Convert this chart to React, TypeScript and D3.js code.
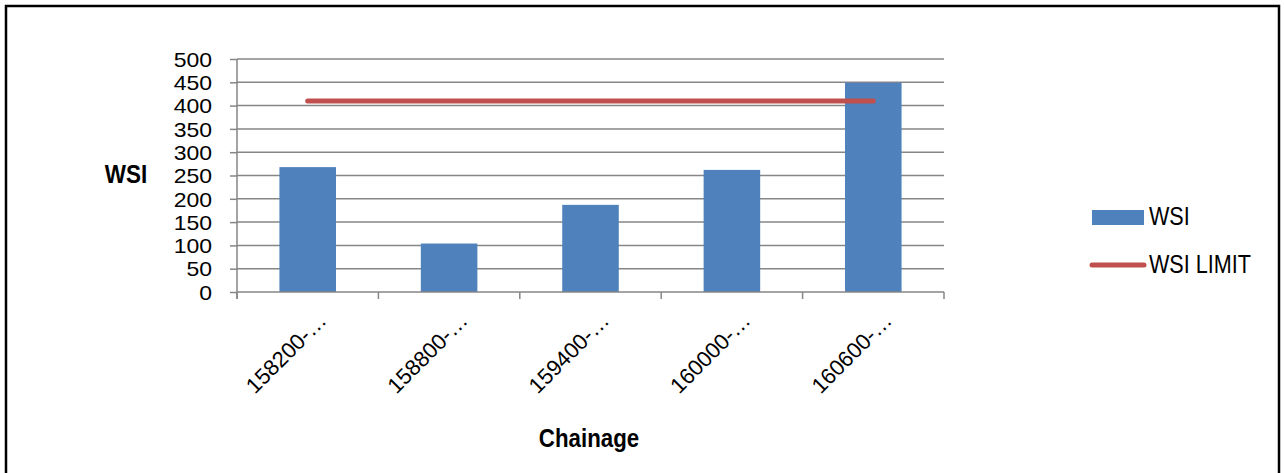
import { useRef, useEffect } from 'react';
import * as d3 from 'd3';

const categories = ['158200-…', '158800-…', '159400-…', '160000-…', '160600-…'];
const wsiValues = [268, 104, 187, 262, 449];
const wsiLimit = [410, 410, 410, 410, 410];
const yTicks = [0, 50, 100, 150, 200, 250, 300, 350, 400, 450, 500];

const width = 1284;
const height = 473;
const marginLeft = 237;
const marginRight = 340;
const marginTop = 59;
const marginBottom = 181;

const font = '"Liberation Sans", Arial, sans-serif';
// text in the original looks stretched vertically
const stretch = 1.18;

export default function App() {
  const gx = useRef<SVGGElement>(null);
  const gy = useRef<SVGGElement>(null);

  const x = d3.scaleBand(categories, [marginLeft, width - marginRight]).paddingInner(0.6).paddingOuter(0.3);
  const xc = d3.scaleBand(categories, [marginLeft, width - marginRight]);
  const y = d3.scaleLinear([0, 500], [height - marginBottom, marginTop]);
  const line = d3.line<number>((d, i) => xc(categories[i])! + xc.bandwidth() / 2, (d) => y(d));

  useEffect(() => {
    const g = d3.select(gy.current!);
    g.selectAll('*').remove();
    g.call(d3.axisLeft(y).tickValues(yTicks).tickSize(7));
    g.select('.domain').attr('stroke', '#868686').attr('stroke-width', 1.5).attr('d', `M0,${y(500)}V${y(0) + 7}`);
    g.selectAll('.tick line').attr('stroke', '#868686').attr('stroke-width', 1.5);
    g.selectAll('.tick text')
      .attr('x', null)
      .attr('transform', 'translate(-25,0) scale(1.15,1)')
      .attr('font-family', font)
      .attr('font-size', 20)
      .attr('fill', '#000')
      .attr('dy', '0.36em');
  }, []);

  useEffect(() => {
    const g = d3.select(gx.current!);
    g.selectAll('*').remove();
    const bounds = categories.map((c) => xc(c)!).concat([width - marginRight]);
    g.append('path')
      .attr('d', `M${marginLeft},0H${width - marginRight}`)
      .attr('stroke', '#868686')
      .attr('stroke-width', 1.5);
    bounds.forEach((b) => {
      g.append('line').attr('x1', b).attr('x2', b).attr('y1', 0).attr('y2', 7)
        .attr('stroke', '#868686').attr('stroke-width', 1.5);
    });
    categories.forEach((c) => {
      const cx = xc(c)! + xc.bandwidth() / 2;
      g.append('text')
        .attr('transform', `translate(${cx + 20},${30}) rotate(-45)`)
        .attr('text-anchor', 'end')
        .attr('font-family', font)
        .attr('font-size', 22)
        .attr('fill', '#000')
        .text(c);
    });
  }, []);

  return (
    <svg width={width} height={height} style={{ position: 'absolute', left: 0, top: 0, background: '#fff' }}>
      <rect x={6} y={6} width={1273} height={480} fill="#fff" stroke="#000" strokeWidth={2.5} />
      <g>
        {yTicks.filter((t) => t > 0).map((t) => (
          <line key={t} x1={marginLeft} x2={width - marginRight} y1={y(t)} y2={y(t)} stroke="#868686" strokeWidth={1.5} />
        ))}
      </g>
      <g>
        {categories.map((c, i) => (
          <rect key={c} x={x(c)} y={y(wsiValues[i])} width={x.bandwidth()} height={y(0) - y(wsiValues[i])} fill="#4F81BD" />
        ))}
      </g>
      <path d={line(wsiLimit)!} fill="none" stroke="#C0504D" strokeWidth={5} strokeLinecap="round" />
      <g ref={gy} transform={`translate(${marginLeft},0)`} />
      <g ref={gx} transform={`translate(0,${height - marginBottom})`} />
      <text transform={`translate(126,183) scale(1,${stretch})`} textAnchor="middle" fontFamily={font} fontWeight="bold" fontSize={22.5}>WSI</text>
      <text transform={`translate(589,447) scale(1,${stretch})`} textAnchor="middle" fontFamily={font} fontWeight="bold" fontSize={22.3}>Chainage</text>
      <g fontFamily={font} fontSize={21.6}>
        <rect x={1092} y={210} width={52} height={15} fill="#4F81BD" />
        <text transform={`translate(1149,225) scale(1,${stretch})`}>WSI</text>
        <line x1={1092} x2={1144} y1={265} y2={265} stroke="#C0504D" strokeWidth={5} strokeLinecap="round" />
        <text transform={`translate(1149,273) scale(1,${stretch})`}>WSI LIMIT</text>
      </g>
    </svg>
  );
}
